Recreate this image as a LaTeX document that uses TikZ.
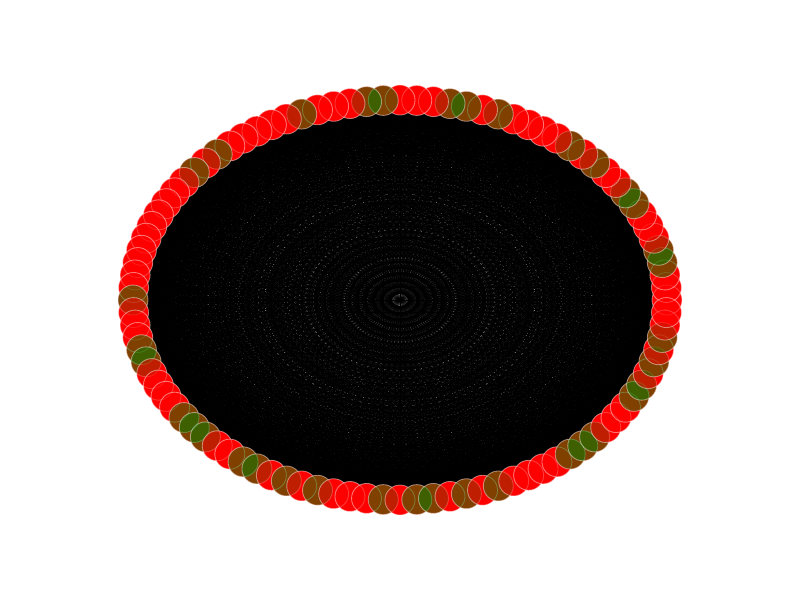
\documentclass[tikz,border=0pt]{standalone}
\definecolor{vr}{RGB}{255,0,0}
\definecolor{vg}{RGB}{0,128,0}
\tikzset{
  edge/.style={black, line width=0.2pt},
  basedisc/.style={fill=vr},
  vert/.style={circle, inner sep=0pt, minimum size=0.6cm, fill opacity=0.5,
               draw=white, draw opacity=0.45, line width=0.5pt}
}
\begin{document}
\begin{tikzpicture}[x=0.02cm, y=-0.02cm]
\fill[white] (0,0) rectangle (800,600);
\useasboundingbox (0,0) rectangle (800,600);
\foreach \k in {0,...,99}
  \coordinate (p\k) at ({400+267*cos(3.6*\k)}, {300-200*sin(3.6*\k)});
\foreach \i in {0,...,98} {
  \pgfmathtruncatemacro\s{\i+1}
  \foreach \j in {\s,...,99} {
    \draw[edge] (p\i) -- (p\j);
  }
}
\foreach \k in {0,...,99}
  \fill[basedisc] (p\k) circle[radius=0.3cm];
\foreach \k/\c in {0/vr,1/vr,2/vr,3/vg,4/vg,5/vr,6/vr,7/vr,8/vg,9/vg,
  10/vr,11/vr,12/vg,13/vr,14/vg,15/vr,16/vr,17/vr,18/vr,19/vg,
  20/vr,21/vg,22/vg,23/vr,24/vr,25/vr,26/vg,27/vg,28/vr,29/vr,
  30/vr,31/vg,32/vr,33/vr,34/vr,35/vr,36/vr,37/vg,38/vr,39/vg,
  40/vr,41/vr,42/vr,43/vr,44/vr,45/vr,46/vr,47/vr,48/vr,49/vr,
  50/vg,51/vr,52/vr,53/vr,54/vg,55/vg,56/vr,57/vr,58/vr,59/vr,
  60/vg,61/vg,62/vg,63/vr,64/vr,65/vg,66/vg,67/vr,68/vg,69/vr,
  70/vg,71/vr,72/vr,73/vr,74/vg,75/vr,76/vg,77/vg,78/vr,79/vg,
  80/vr,81/vg,82/vr,83/vr,84/vr,85/vr,86/vg,87/vg,88/vg,89/vr,
  90/vr,91/vr,92/vg,93/vg,94/vr,95/vg,96/vr,97/vg,98/vr,99/vr}
  \node[vert, fill=\c] (n\k) at (p\k) {};
\end{tikzpicture}
\end{document}
